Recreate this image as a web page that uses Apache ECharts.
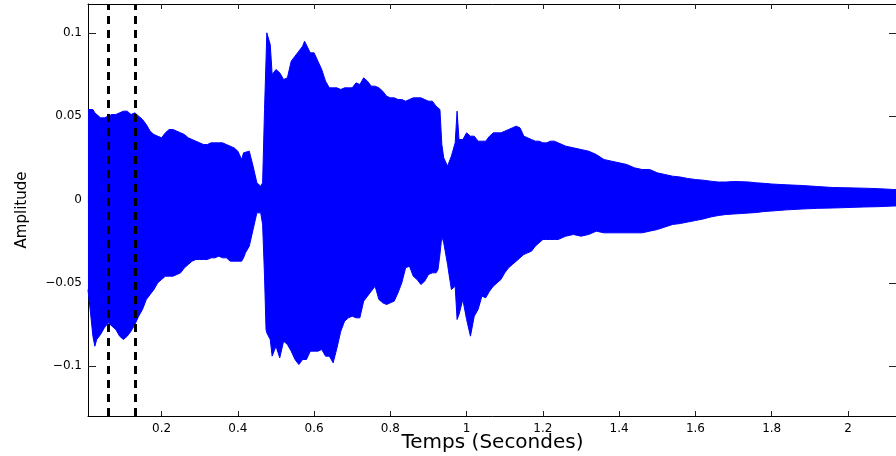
<!DOCTYPE html>
<html>
<head>
<meta charset="utf-8">
<script src="https://cdn.jsdelivr.net/npm/echarts@6/dist/echarts.min.js"></script>
<style>
  html, body { margin: 0; padding: 0; background: #fff; }
  #chart { width: 896px; height: 456px; }
</style>
</head>
<body>
<div id="chart"></div>
<script>
// Time (s) of each envelope sample
const times = [
  0.007,0.01,0.02,0.025,0.03,0.04,0.05,0.06,0.07,0.08,
  0.09,0.10,0.11,0.12,0.13,0.14,0.15,0.16,0.17,0.18,
  0.19,0.20,0.21,0.22,0.23,0.24,0.25,0.26,0.27,0.28,
  0.29,0.30,0.31,0.32,0.33,0.34,0.35,0.36,0.37,0.38,
  0.39,0.40,0.41,0.415,0.42,0.43,0.44,0.45,0.46,0.465,
  0.47,0.474,0.476,0.48,0.485,0.49,0.50,0.51,0.52,0.53,
  0.54,0.55,0.56,0.57,0.575,0.58,0.59,0.60,0.61,0.62,
  0.63,0.64,0.65,0.66,0.67,0.68,0.69,0.70,0.71,0.72,
  0.73,0.74,0.75,0.76,0.77,0.78,0.79,0.80,0.81,0.82,
  0.83,0.84,0.85,0.86,0.87,0.88,0.89,0.90,0.91,0.92,
  0.925,0.93,0.935,0.94,0.95,0.96,0.97,0.975,0.98,0.99,
  1.00,1.01,1.02,1.03,1.04,1.05,1.06,1.07,1.08,1.09,
  1.10,1.11,1.12,1.13,1.14,1.15,1.16,1.17,1.18,1.19,
  1.20,1.21,1.22,1.23,1.24,1.25,1.26,1.28,1.30,1.32,
  1.34,1.36,1.38,1.40,1.42,1.44,1.46,1.48,1.50,1.52,
  1.54,1.56,1.58,1.60,1.62,1.64,1.66,1.68,1.70,1.72,
  1.74,1.76,1.78,1.80,1.84,1.88,1.92,1.96,2.00,2.04,
  2.08,2.12,2.129
];
// Upper envelope of the waveform (amplitude)
const upperEnv = [
  0.054,0.055,0.054,0.052,0.051,0.049,0.049,0.050,0.051,0.051,
  0.052,0.053,0.053,0.051,0.052,0.050,0.048,0.045,0.041,0.039,
  0.038,0.037,0.040,0.042,0.042,0.041,0.040,0.039,0.037,0.036,
  0.035,0.034,0.033,0.033,0.034,0.034,0.034,0.034,0.033,0.032,
  0.031,0.029,0.024,0.028,0.028,0.029,0.020,0.010,0.008,0.010,
  0.054,0.084,0.100,0.099,0.093,0.075,0.078,0.076,0.072,0.073,
  0.083,0.086,0.089,0.092,0.095,0.094,0.088,0.088,0.083,0.078,
  0.071,0.067,0.067,0.067,0.066,0.067,0.067,0.067,0.070,0.069,
  0.073,0.071,0.068,0.068,0.067,0.065,0.062,0.061,0.061,0.060,
  0.060,0.059,0.060,0.061,0.061,0.061,0.060,0.059,0.059,0.056,
  0.055,0.054,0.033,0.025,0.020,0.026,0.034,0.053,0.036,0.036,
  0.040,0.038,0.038,0.035,0.035,0.035,0.038,0.040,0.040,0.040,
  0.041,0.042,0.043,0.044,0.043,0.038,0.037,0.036,0.035,0.035,
  0.034,0.034,0.035,0.035,0.034,0.033,0.032,0.031,0.030,0.029,
  0.027,0.024,0.023,0.022,0.021,0.019,0.018,0.018,0.016,0.015,
  0.014,0.0135,0.0126,0.012,0.0116,0.011,0.0105,0.0105,0.0108,0.0107,
  0.0105,0.010,0.0097,0.0093,0.0088,0.0084,0.0078,0.0072,0.0070,0.0068,
  0.0065,0.0060,0.0060
];
// Lower envelope of the waveform (amplitude)
const lowerEnv = [
  -0.054,-0.060,-0.082,-0.088,-0.084,-0.081,-0.077,-0.074,-0.076,-0.078,
  -0.082,-0.084,-0.082,-0.079,-0.075,-0.070,-0.066,-0.060,-0.057,-0.054,
  -0.050,-0.048,-0.046,-0.046,-0.046,-0.045,-0.044,-0.041,-0.039,-0.037,
  -0.036,-0.036,-0.036,-0.036,-0.035,-0.035,-0.034,-0.035,-0.035,-0.037,
  -0.037,-0.037,-0.037,-0.035,-0.032,-0.028,-0.018,-0.008,-0.008,-0.015,
  -0.046,-0.078,-0.080,-0.081,-0.084,-0.094,-0.088,-0.095,-0.085,-0.087,
  -0.091,-0.096,-0.099,-0.096,-0.096,-0.096,-0.091,-0.091,-0.091,-0.090,
  -0.094,-0.094,-0.098,-0.089,-0.079,-0.073,-0.071,-0.070,-0.071,-0.071,
  -0.061,-0.058,-0.055,-0.052,-0.060,-0.062,-0.063,-0.062,-0.061,-0.056,
  -0.050,-0.041,-0.040,-0.046,-0.048,-0.051,-0.049,-0.045,-0.044,-0.044,
  -0.042,-0.033,-0.022,-0.026,-0.039,-0.054,-0.052,-0.072,-0.069,-0.060,
  -0.072,-0.082,-0.070,-0.066,-0.058,-0.059,-0.055,-0.052,-0.050,-0.048,
  -0.044,-0.041,-0.039,-0.037,-0.035,-0.033,-0.032,-0.031,-0.028,-0.026,
  -0.024,-0.024,-0.024,-0.024,-0.024,-0.023,-0.022,-0.021,-0.022,-0.021,
  -0.019,-0.020,-0.020,-0.020,-0.020,-0.020,-0.020,-0.019,-0.018,-0.0165,
  -0.015,-0.0144,-0.0135,-0.0126,-0.0117,-0.0105,-0.0096,-0.009,-0.0087,-0.0084,
  -0.0081,-0.0078,-0.0072,-0.0069,-0.0062,-0.0057,-0.0053,-0.0051,-0.0048,-0.0045,
  -0.0043,-0.0039,-0.0039
];
// Vertical dashed markers (s)
const dashMarks = [0.0556, 0.13];
// Tick values
const xTicks = [0.2, 0.4, 0.6, 0.8, 1, 1.2, 1.4, 1.6, 1.8, 2];
const yTicks = [-0.1, -0.05, 0, 0.05, 0.1];
// Axis ranges
const xRange = [0.0071, 2.1286];
const yRange = [-0.1299, 0.1173];

const BLUE = '#0000ff';
const FONT = 'DejaVu Sans';

const upperData = times.map((t, i) => [t, upperEnv[i]]);
const lowerData = times.map((t, i) => [t, lowerEnv[i]]);

const fmtY = v => (v < 0 ? '\u2212' + String(-v) : String(v));

const chart = echarts.init(document.getElementById('chart'), null, { renderer: 'canvas' });
chart.setOption({
  animation: false,
  backgroundColor: '#fff',
  grid: { left: 88, top: 4, right: -1, bottom: 40, containLabel: false, outerBoundsMode: 'none' },
  xAxis: [
    {
      type: 'value', position: 'bottom', min: xRange[0], max: xRange[1],
      name: 'Temps (Secondes)', nameLocation: 'middle', nameGap: 17, nameMoveOverlap: false,
      nameTextStyle: { fontFamily: FONT, fontSize: 20, color: '#000' },
      axisLine: { show: true, onZero: false, lineStyle: { color: '#000', width: 1 } },
      axisTick: { show: true, inside: true, length: 5, customValues: xTicks, lineStyle: { color: '#222' } },
      axisLabel: { show: true, customValues: xTicks, margin: 7, fontFamily: FONT, fontSize: 12, color: '#000', formatter: v => String(v) },
      splitLine: { show: false }
    },
    {
      type: 'value', position: 'top', min: xRange[0], max: xRange[1],
      axisLine: { show: true, onZero: false, lineStyle: { color: '#000', width: 1 } },
      axisTick: { show: true, inside: true, length: 5, customValues: xTicks, lineStyle: { color: '#222' } },
      axisLabel: { show: false },
      splitLine: { show: false }
    }
  ],
  yAxis: [
    {
      type: 'value', position: 'left', min: yRange[0], max: yRange[1],
      name: 'Amplitude', nameLocation: 'middle', nameGap: 58, nameRotate: 90, nameMoveOverlap: false,
      nameTextStyle: { fontFamily: FONT, fontSize: 15, color: '#000' },
      axisLine: { show: true, onZero: false, lineStyle: { color: '#000', width: 1 } },
      axisTick: { show: true, inside: true, length: 8, customValues: yTicks, lineStyle: { color: '#222' } },
      axisLabel: { show: true, customValues: yTicks, margin: 6, fontFamily: FONT, fontSize: 12, color: '#000', formatter: fmtY },
      splitLine: { show: false }
    },
    {
      type: 'value', position: 'right', min: yRange[0], max: yRange[1],
      axisLine: { show: true, onZero: false, lineStyle: { color: '#000', width: 1 } },
      axisTick: { show: true, inside: true, length: 8, customValues: yTicks, lineStyle: { color: '#222' } },
      axisLabel: { show: false },
      splitLine: { show: false }
    }
  ],
  series: [
    {
      type: 'line', xAxisIndex: 0, yAxisIndex: 0, data: upperData,
      symbol: 'none', smooth: false,
      lineStyle: { color: BLUE, width: 1 },
      areaStyle: { color: BLUE, opacity: 1, origin: -0.003 },
      z: 2
    },
    {
      type: 'line', xAxisIndex: 0, yAxisIndex: 0, data: lowerData,
      symbol: 'none', smooth: false,
      lineStyle: { color: BLUE, width: 1 },
      areaStyle: { color: BLUE, opacity: 1, origin: 0.003 },
      z: 2,
      markLine: {
        silent: true, symbol: ['none', 'none'], animation: false,
        label: { show: false },
        lineStyle: { color: '#000', width: 3, type: [8, 6] },
        emphasis: { disabled: true },
        data: dashMarks.map(x => ({ xAxis: x }))
      }
    }
  ]
});
</script>
</body>
</html>
